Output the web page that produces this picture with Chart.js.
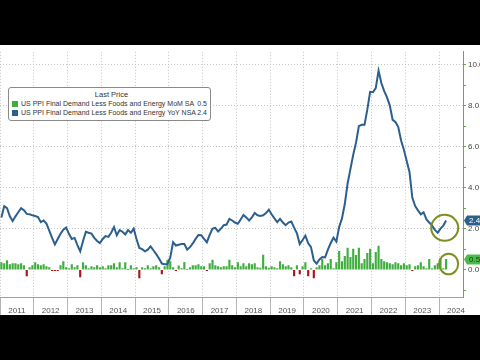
<!DOCTYPE html>
<html>
<head>
<meta charset="utf-8">
<script src="https://cdn.jsdelivr.net/npm/chart.js@4.4.1/dist/chart.umd.min.js"></script>
<style>
  html, body { margin: 0; padding: 0; background: #000; }
  body { width: 480px; height: 360px; position: relative; overflow: hidden; font-family: "Liberation Sans", Arial, sans-serif; }
  #wrap { position: absolute; left: 0; top: 45px; width: 480px; height: 270px; background: #fff; }
  #legend {
    position: absolute; left: 8px; top: 87px; width: 203px; height: 34px;
    border: 1px solid #8a8a8a; border-radius: 3px; background: #fff;
    font-size: 7px; color: #333; line-height: 9px; box-sizing: border-box; padding-top: 2px;
    white-space: nowrap;
  }
  #legend .title { text-align: center; padding-left: 4px; font-size: 7.5px; }
  #legend .row { display: flex; align-items: center; padding: 0 3px; }
  #legend .sw { width: 6px; height: 6px; margin-right: 3px; }
  #legend .name { flex: 1; }
</style>
</head>
<body>
<div id="wrap"><canvas id="ppiChart"></canvas></div>
<div id="legend">
  <div class="title">Last Price</div>
  <div class="row"><span class="sw" style="background:#3fae3f"></span><span class="name" id="l1"></span><span id="v1"></span></div>
  <div class="row"><span class="sw" style="background:#2b5f8e"></span><span class="name" id="l2"></span><span id="v2"></span></div>
</div>
<script>
// year labels on the bottom axis (each year = 12 months)
const years = ['2011', '2012', '2013', '2014', '2015', '2016', '2017', '2018', '2019', '2020', '2021', '2022', '2023', '2024'];

// monthly, Jan 2011 .. Mar 2024
const yoy = [
  2.55, 3.1, 3.0, 2.6, 2.37, 2.6, 2.8, 3.0, 2.9, 2.72, 2.7, 2.65,
  2.62, 2.57, 2.32, 2.4, 2.25, 1.9, 1.55, 1.23, 1.5, 1.75, 1.95, 2.05,
  1.75, 1.5, 1.55, 1.2, 0.9, 1.4, 1.85, 1.8, 1.76, 1.55, 1.4, 1.3,
  1.5, 1.64, 1.6, 1.8, 2.08, 1.68, 1.93, 1.85, 1.72, 1.93, 1.8, 2.0,
  1.5, 1.06, 1.0, 0.9, 0.98, 1.14, 0.95, 0.76, 0.55, 0.3, 0.27, 0.28,
  0.6, 1.34, 1.18, 1.22, 1.25, 1.25, 0.98, 1.1, 1.28, 1.5, 1.69, 1.68,
  1.5, 1.34, 1.7, 2.0, 2.04, 1.86, 2.0, 2.17, 2.2, 2.48, 2.4, 2.3,
  2.24, 2.45, 2.67, 2.55, 2.4, 2.55, 2.76, 2.65, 2.62, 2.65, 2.76, 2.92,
  2.7, 2.5, 2.32, 2.48, 2.3, 2.17, 2.3, 2.35, 2.05, 1.77, 1.25, 1.45,
  1.66, 1.29, 1.1, 0.45, 0.3, 0.5, 0.62, 0.6, 0.98, 1.3, 1.56, 1.37,
  2.08, 2.5, 3.2, 4.2, 4.9, 5.6, 6.2, 7.0, 7.06, 7.06, 7.8, 8.67,
  8.65, 8.85, 9.7, 9.1, 8.7, 8.4, 8.0, 7.3, 7.2, 6.95, 6.3, 5.85,
  5.3, 4.75, 3.5, 3.1, 2.89, 2.7, 2.8, 2.45, 2.3, 2.15, 1.94, 1.8,
  2.0, 2.15, 2.4
];

const mom = [
  0.35, 0.3, 0.45, 0.25, 0.3, 0.3, 0.25, 0.3, 0.2, -0.3, 0.1, 0.2,
  0.35, 0.25, 0.2, 0.25, 0.15, 0.1, -0.05, -0.05, -0.05, 0.2, 0.4, 0.1,
  0.05, 0.25, 0.1, 0.2, -0.35, 0.35, 0.2, 0.05, 0.15, 0.1, 0.2, 0.1,
  0.15, 0.05, 0.2, 0.2, 0.3, 0.1, 0.35, 0.05, 0.35, 0.02, 0.2, 0.05,
  0.1, -0.4, 0.1, 0.05, 0.2, 0.05, 0.15, 0.2, 0.1, -0.2, 0.15, 0.47,
  0.4, 0.1, -0.05, 0.19, 0.05, 0.36, 0.02, 0.1, 0.2, 0.2, 0.25, 0.15,
  0.15, -0.05, 0.3, 0.47, 0.2, 0.15, 0.1, 0.15, 0.15, 0.47, 0.2, 0.1,
  0.35, 0.15, 0.3, 0.15, 0.3, 0.25, 0.3, 0.1, 0.08, 0.71, 0.15, 0.08,
  0.15, 0.1, 0.05, 0.4, 0.25, 0.15, 0.2, 0.1, -0.3, 0.2, -0.2, 0.15,
  0.35, -0.3, 0.05, -0.4, 0.1, 0.2, 0.5, 0.2, 0.3, 0.5, 0.05, 0.35,
  0.9, 0.4, 0.65, 1.05, 0.6, 1.0, 0.7, 1.05, 0.3, 0.5, 0.8, 1.0,
  0.3, 0.85, 1.15, 0.5, 0.4, 0.35, 0.3, 0.25, 0.35, 0.3, 0.2, 0.3,
  0.2, 0.25, -0.05, 0.15, 0.2, 0.35, 0.15, 0.05, 0.5, 0.05, 0.2, 0.3,
  0.55, 0.05, 0.5
];

const seriesNames = [
  'US PPI Final Demand Less Foods and Energy MoM SA',
  'US PPI Final Demand Less Foods and Energy YoY NSA'
];
const lastValues = ['0.5', '2.4'];

// highlight rings, in data units (month, value)
const rings = [
  { x: 158.0, y: 2.04, rx: 13.5, ry: 13 },
  { x: 159.4, y: 0.28, rx: 9.5, ry: 10.3 }
];

const GREEN = '#3fae3f';
const RED = '#a8161b';
const BLUE = '#2b5f8e';

document.getElementById('l1').textContent = seriesNames[0];
document.getElementById('l2').textContent = seriesNames[1];
document.getElementById('v1').textContent = lastValues[0];
document.getElementById('v2').textContent = lastValues[1];

function drawTag(ctx, x0, y, text, bg, fg) {
  ctx.save();
  ctx.fillStyle = bg;
  ctx.beginPath();
  ctx.moveTo(x0 + 1, y);
  ctx.lineTo(x0 + 4, y - 5);
  ctx.lineTo(480, y - 5);
  ctx.lineTo(480, y + 5);
  ctx.lineTo(x0 + 4, y + 5);
  ctx.closePath();
  ctx.fill();
  ctx.fillStyle = fg;
  ctx.font = '8px "Liberation Sans", Arial, sans-serif';
  ctx.textBaseline = 'middle';
  ctx.fillText(text, x0 + 6, y + 0.5);
  ctx.restore();
}

const extras = {
  id: 'extras',
  afterDraw(chart) {
    const { ctx, chartArea } = chart;
    const xs = chart.scales.x, ys = chart.scales.y;
    ctx.save();
    ctx.strokeStyle = '#7d8f1f';
    ctx.lineWidth = 2;
    rings.forEach(r => {
      ctx.beginPath();
      ctx.ellipse(xs.getPixelForValue(r.x), ys.getPixelForValue(r.y), r.rx, r.ry, 0, 0, Math.PI * 2);
      ctx.stroke();
    });
    ctx.restore();
    drawTag(ctx, chartArea.right, ys.getPixelForValue(yoy[yoy.length - 1]), lastValues[1], BLUE, '#fff');
    drawTag(ctx, chartArea.right, ys.getPixelForValue(mom[mom.length - 1]), lastValues[0], '#4cbb4c', '#0d3d0d');
  }
};

const ctx = document.getElementById('ppiChart').getContext('2d');
new Chart(ctx, {
  type: 'bar',
  data: {
    datasets: [
      {
        type: 'line',
        label: seriesNames[1],
        data: yoy.map((v, i) => ({ x: i + 0.5, y: v })),
        borderColor: BLUE,
        borderWidth: 2,
        pointRadius: 0,
        tension: 0,
        order: 1
      },
      {
        type: 'bar',
        label: seriesNames[0],
        data: mom.map((v, i) => ({ x: i + 0.5, y: v })),
        backgroundColor: mom.map(v => v >= 0 ? GREEN : RED),
        barThickness: 1.5,
        order: 2
      }
    ]
  },
  options: {
    responsive: true,
    maintainAspectRatio: false,
    animation: false,
    layout: { padding: 0 },
    plugins: {
      legend: { display: false },
      tooltip: { enabled: false }
    },
    scales: {
      x: {
        type: 'linear',
        offset: false,
        min: 0,
        max: 164.5,
        afterBuildTicks: axis => { axis.ticks = years.map((_, k) => ({ value: k * 12 })); },
        afterFit: axis => { axis.height = 18; },
        ticks: {
          autoSkip: false,
          maxRotation: 0,
          padding: -9,
          labelOffset: 16.9,
          color: '#555',
          font: { family: '"Liberation Sans", Arial, sans-serif', size: 8 },
          callback: (value) => years[Math.round(value / 12)]
        },
        grid: {
          offset: false,
          color: '#c4c4c4',
          tickColor: '#b5b5b5',
          tickLength: 18,
          tickBorderDash: []
        },
        border: { display: true, color: '#a0a0a0', dash: [1, 2] }
      },
      y: {
        position: 'right',
        min: -1.33,
        max: 10.62,
        afterBuildTicks: axis => {
          const t = [];
          for (let v = -1; v <= 10; v++) t.push({ value: v });
          axis.ticks = t;
        },
        afterFit: axis => { axis.width = 17; },
        ticks: {
          padding: 2,
          color: '#444',
          font: { family: '"Liberation Sans", Arial, sans-serif', size: 8 },
          callback: (value) => (value % 2 === 0 ? value.toFixed(1) : '')
        },
        grid: {
          color: c => (c.tick && c.tick.value > 0 && c.tick.value % 2 === 0 ? '#c4c4c4' : 'rgba(0,0,0,0)'),
          tickColor: '#6aa84f',
          tickLength: 3
        },
        border: { display: true, color: '#6aa84f', dash: [1, 2] }
      }
    }
  },
  plugins: [extras]
});
</script>
</body>
</html>
